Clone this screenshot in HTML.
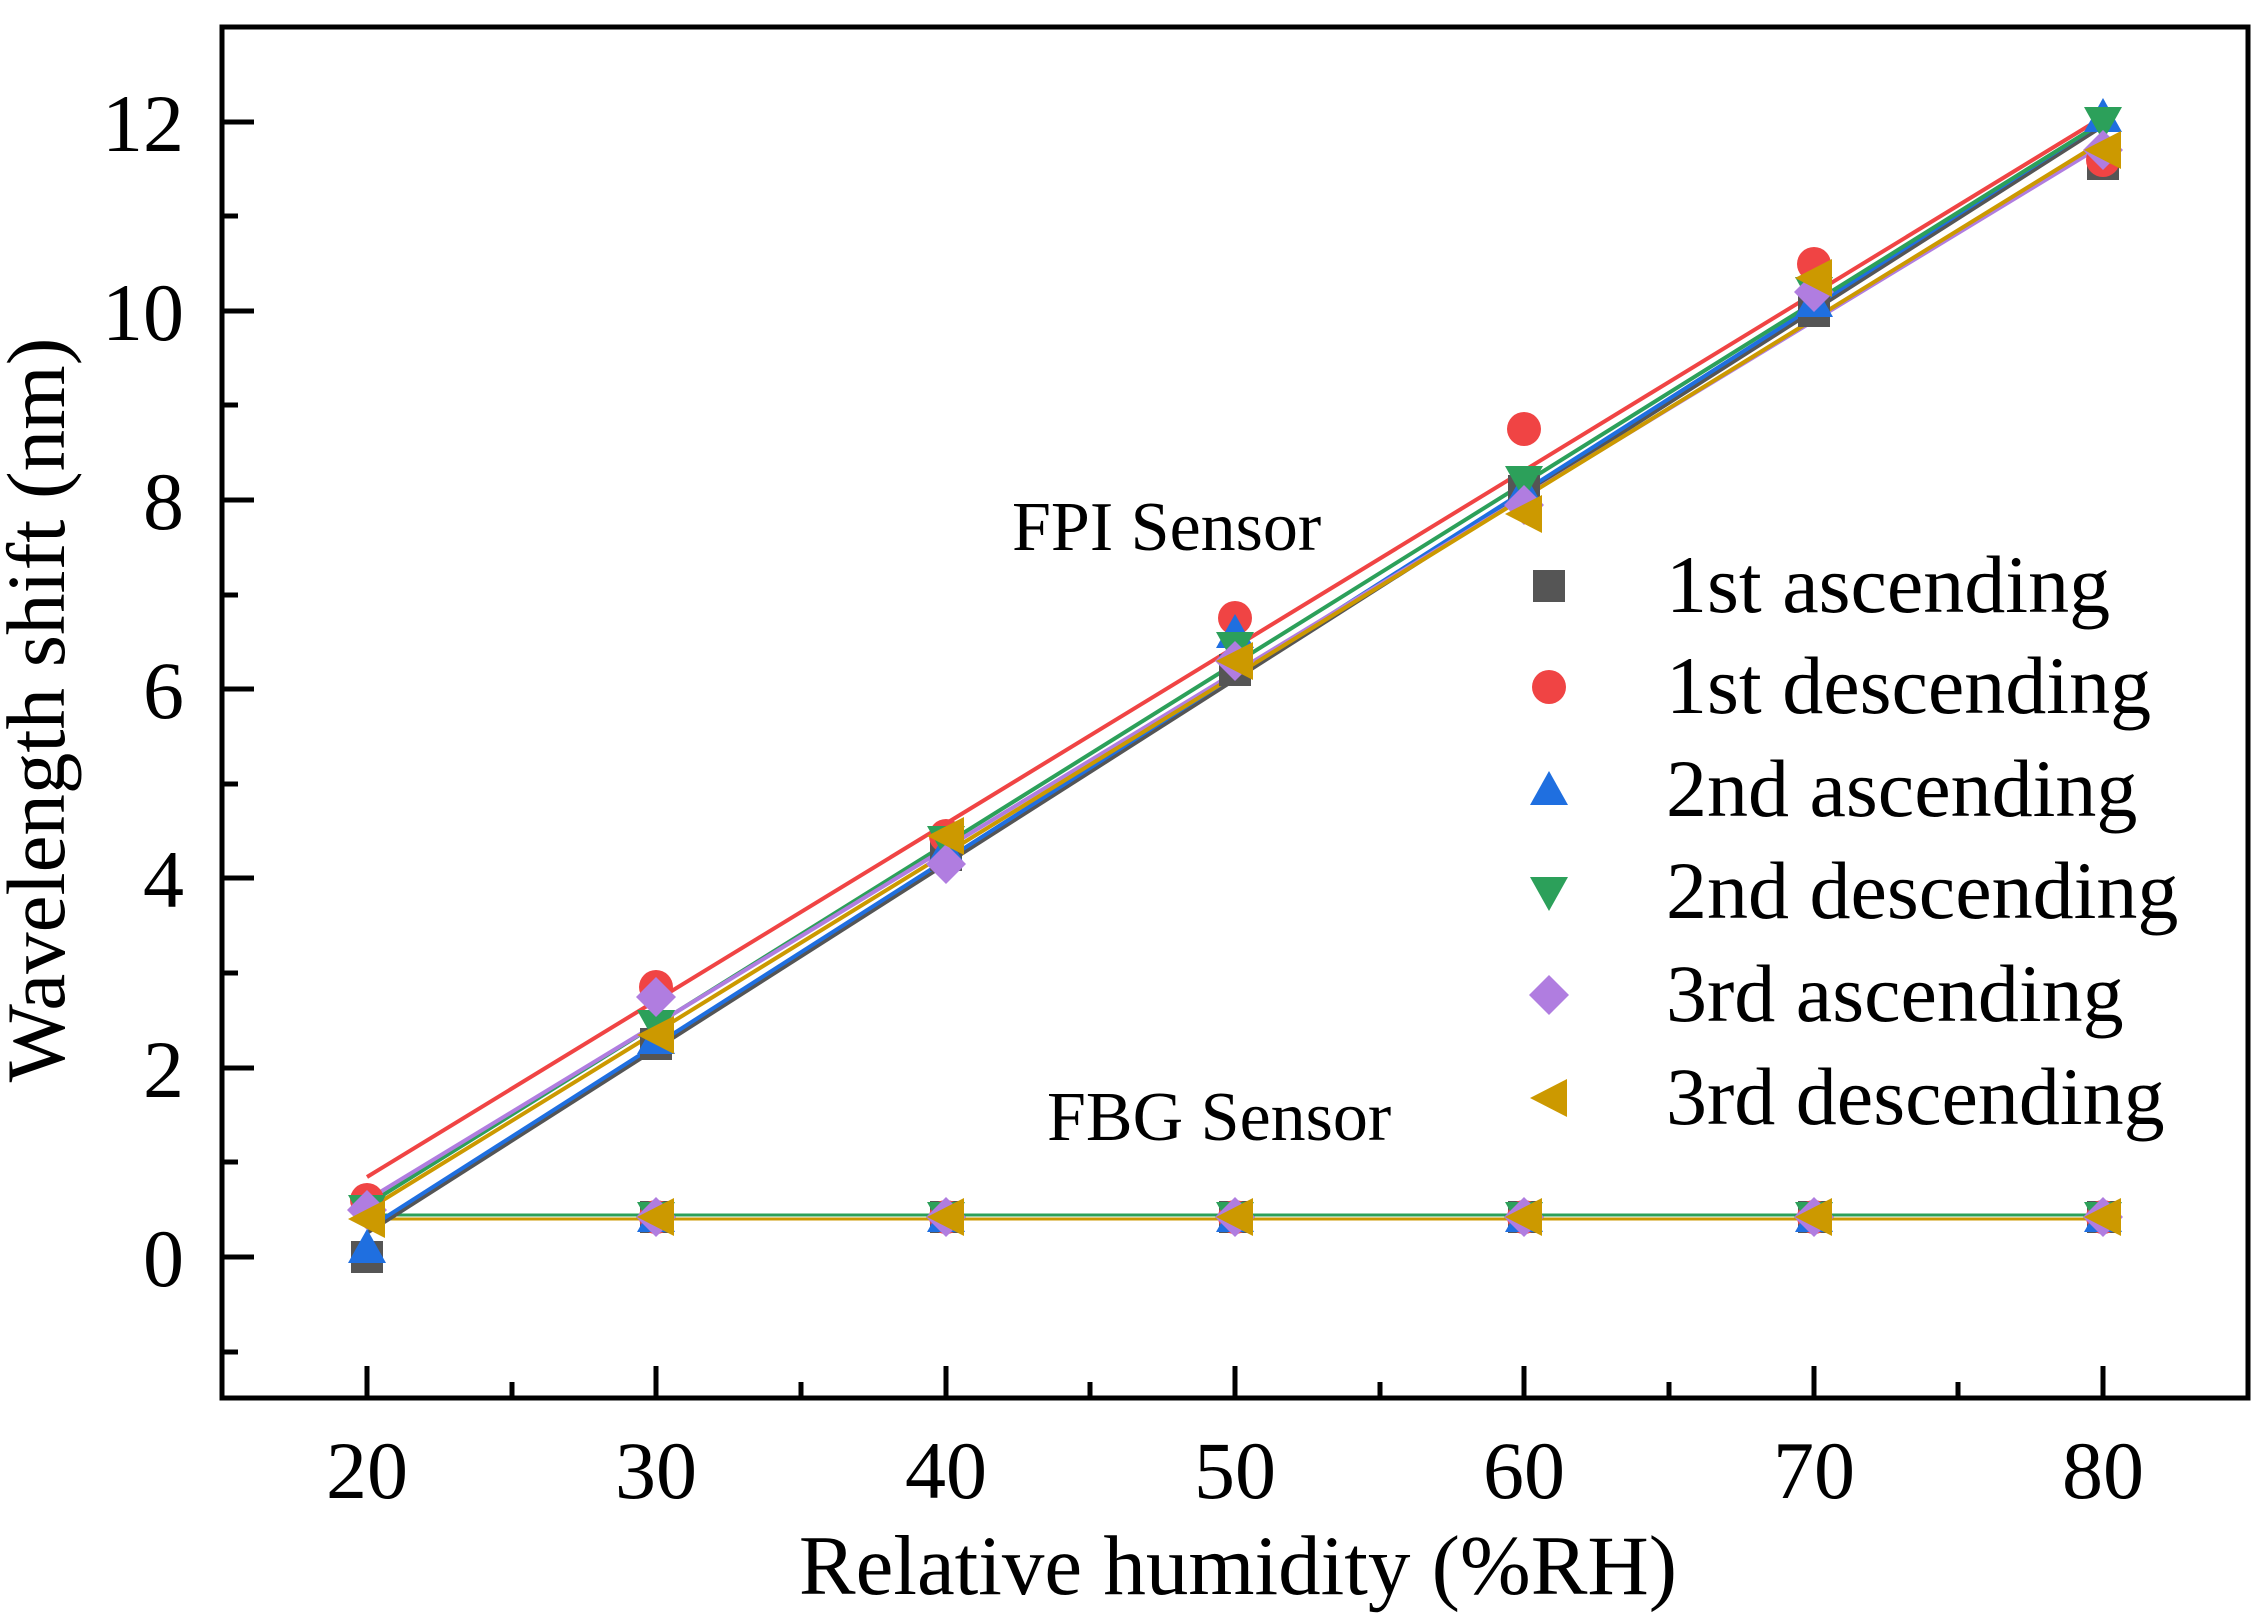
<!DOCTYPE html>
<html><head><meta charset="utf-8"><style>
html,body{margin:0;padding:0;background:#fff;}
svg{display:block;}
text{font-family:"Liberation Serif",serif;fill:#000;}
</style></head><body>
<svg width="2266" height="1619" viewBox="0 0 2266 1619" xmlns="http://www.w3.org/2000/svg">
<defs>
<marker id="sq" markerUnits="userSpaceOnUse" markerWidth="44" markerHeight="44" refX="22" refY="22"><rect x="6" y="6" width="32" height="32" fill="#555"/></marker>
<marker id="ci" markerUnits="userSpaceOnUse" markerWidth="44" markerHeight="44" refX="22" refY="22"><circle cx="22" cy="22" r="17" fill="#f04444"/></marker>
<marker id="tu" markerUnits="userSpaceOnUse" markerWidth="44" markerHeight="44" refX="22" refY="22"><polygon points="22,3 41,37 3,37" fill="#1f6fe0"/></marker>
<marker id="td" markerUnits="userSpaceOnUse" markerWidth="44" markerHeight="44" refX="22" refY="22"><polygon points="3,7 41,7 22,41" fill="#2ca05a"/></marker>
<marker id="di" markerUnits="userSpaceOnUse" markerWidth="44" markerHeight="44" refX="22" refY="22"><polygon points="22,2 42,22 22,42 2,22" fill="#b07de0"/></marker>
<marker id="tl" markerUnits="userSpaceOnUse" markerWidth="44" markerHeight="44" refX="22" refY="22"><polygon points="3,22 40,3 40,41" fill="#cc9900"/></marker>
</defs>

<line x1="367" y1="1215" x2="2103" y2="1215" stroke="#2ca05a" stroke-width="3"/>
<line x1="367" y1="1219" x2="2103" y2="1219" stroke="#cc9900" stroke-width="3"/>

<g stroke-width="4">
<line x1="367" y1="1233" x2="2103" y2="126" stroke="#555"/>
<line x1="367" y1="1177" x2="2103" y2="117" stroke="#f04444"/>
<line x1="367" y1="1229" x2="2103" y2="122" stroke="#1f6fe0"/>
<line x1="367" y1="1205" x2="2103" y2="122" stroke="#2ca05a"/>
<line x1="367" y1="1200" x2="2103" y2="145" stroke="#b07de0"/>
<line x1="367" y1="1210" x2="2103" y2="141" stroke="#cc9900"/>
</g>

<g fill="none" stroke="none">
<polyline points="656,1217 946,1217 1235,1217 1524,1217 1814,1217 2103,1217" marker-start="url(#sq)" marker-mid="url(#sq)" marker-end="url(#sq)"/>
<polyline points="656,1217 946,1217 1235,1217 1524,1217 1814,1217 2103,1217" marker-start="url(#ci)" marker-mid="url(#ci)" marker-end="url(#ci)"/>
<polyline points="656,1217 946,1217 1235,1217 1524,1217 1814,1217 2103,1217" marker-start="url(#tu)" marker-mid="url(#tu)" marker-end="url(#tu)"/>
<polyline points="656,1217 946,1217 1235,1217 1524,1217 1814,1217 2103,1217" marker-start="url(#td)" marker-mid="url(#td)" marker-end="url(#td)"/>
<polyline points="656,1217 946,1217 1235,1217 1524,1217 1814,1217 2103,1217" marker-start="url(#di)" marker-mid="url(#di)" marker-end="url(#di)"/>
<polyline points="656,1217 946,1217 1235,1217 1524,1217 1814,1217 2103,1217" marker-start="url(#tl)" marker-mid="url(#tl)" marker-end="url(#tl)"/>
</g>

<g fill="none" stroke="none">
<polyline points="367,1257 656,1044 946,855 1235,670 1524,491 1814,311 2103,164" marker-start="url(#sq)" marker-mid="url(#sq)" marker-end="url(#sq)"/>
<polyline points="367,1200 656,987 946,836 1235,618 1524,429 1814,264 2103,160" marker-start="url(#ci)" marker-mid="url(#ci)" marker-end="url(#ci)"/>
<polyline points="367,1248 656,1039 946,850 1235,633 1524,491 1814,302 2103,117" marker-start="url(#tu)" marker-mid="url(#tu)" marker-end="url(#tu)"/>
<polyline points="367,1210 656,1025 946,841 1235,647 1524,481 1814,292 2103,122" marker-start="url(#td)" marker-mid="url(#td)" marker-end="url(#td)"/>
<polyline points="367,1210 656,997 946,864 1235,661 1524,505 1814,292 2103,150" marker-start="url(#di)" marker-mid="url(#di)" marker-end="url(#di)"/>
<polyline points="367,1219 656,1035 946,836 1235,661 1524,514 1814,278 2103,150" marker-start="url(#tl)" marker-mid="url(#tl)" marker-end="url(#tl)"/>
</g>

<rect x="222" y="27" width="2026" height="1371" fill="none" stroke="#000" stroke-width="5"/>
<g stroke="#000" stroke-width="5">
<line x1="367" y1="1398" x2="367" y2="1366"/>
<line x1="656" y1="1398" x2="656" y2="1366"/>
<line x1="946" y1="1398" x2="946" y2="1366"/>
<line x1="1235" y1="1398" x2="1235" y2="1366"/>
<line x1="1524" y1="1398" x2="1524" y2="1366"/>
<line x1="1814" y1="1398" x2="1814" y2="1366"/>
<line x1="2103" y1="1398" x2="2103" y2="1366"/>
<line x1="512" y1="1398" x2="512" y2="1382"/>
<line x1="801" y1="1398" x2="801" y2="1382"/>
<line x1="1090" y1="1398" x2="1090" y2="1382"/>
<line x1="1380" y1="1398" x2="1380" y2="1382"/>
<line x1="1669" y1="1398" x2="1669" y2="1382"/>
<line x1="1958" y1="1398" x2="1958" y2="1382"/>
<line x1="222" y1="1257" x2="254" y2="1257"/>
<line x1="222" y1="1068" x2="254" y2="1068"/>
<line x1="222" y1="878" x2="254" y2="878"/>
<line x1="222" y1="689" x2="254" y2="689"/>
<line x1="222" y1="500" x2="254" y2="500"/>
<line x1="222" y1="311" x2="254" y2="311"/>
<line x1="222" y1="122" x2="254" y2="122"/>
<line x1="222" y1="1352" x2="238" y2="1352"/>
<line x1="222" y1="1162" x2="238" y2="1162"/>
<line x1="222" y1="973" x2="238" y2="973"/>
<line x1="222" y1="784" x2="238" y2="784"/>
<line x1="222" y1="595" x2="238" y2="595"/>
<line x1="222" y1="405" x2="238" y2="405"/>
<line x1="222" y1="216" x2="238" y2="216"/>
</g>

<g font-size="82" text-anchor="middle">
<text x="367" y="1498">20</text>
<text x="656" y="1498">30</text>
<text x="946" y="1498">40</text>
<text x="1235" y="1498">50</text>
<text x="1524" y="1498">60</text>
<text x="1814" y="1498">70</text>
<text x="2103" y="1498">80</text>
</g>
<g font-size="82" text-anchor="end">
<text x="184" y="1286">0</text>
<text x="184" y="1097">2</text>
<text x="184" y="907">4</text>
<text x="184" y="718">6</text>
<text x="184" y="529">8</text>
<text x="184" y="340">10</text>
<text x="184" y="151">12</text>
</g>

<text x="1238" y="1594" font-size="85" text-anchor="middle">Relative humidity (%RH)</text>
<text transform="translate(64,710) rotate(-90)" font-size="83" text-anchor="middle">Wavelength shift (nm)</text>

<text x="1012" y="550" font-size="70">FPI Sensor</text>
<text x="1047" y="1140" font-size="70">FBG Sensor</text>

<g fill="none" stroke="none">
<polyline points="1549,586 1549,586" marker-start="url(#sq)"/>
<polyline points="1549,687 1549,687" marker-start="url(#ci)"/>
<polyline points="1549,790 1549,790" marker-start="url(#tu)"/>
<polyline points="1549,892 1549,892" marker-start="url(#td)"/>
<polyline points="1549,995 1549,995" marker-start="url(#di)"/>
<polyline points="1549,1098 1549,1098" marker-start="url(#tl)"/>
</g>
<g font-size="82">
<text x="1666" y="612">1st ascending</text>
<text x="1666" y="713">1st descending</text>
<text x="1666" y="816">2nd ascending</text>
<text x="1666" y="918">2nd descending</text>
<text x="1666" y="1021">3rd ascending</text>
<text x="1666" y="1124">3rd descending</text>
</g>
</svg>
</body></html>
